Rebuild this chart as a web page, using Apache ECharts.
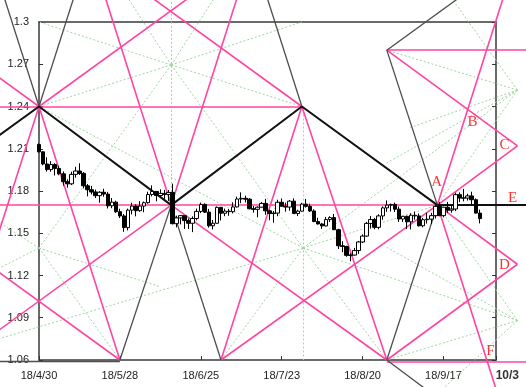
<!DOCTYPE html>
<html><head><meta charset="utf-8">
<script src="https://cdn.jsdelivr.net/npm/echarts@6/dist/echarts.min.js"></script>
<style>html,body{margin:0;padding:0;background:#fff}#c{width:526px;height:387px}</style>
</head><body><div id="c"></div>
<script>
const dates = ['18/4/30','18/5/1','18/5/2','18/5/3','18/5/4','18/5/7','18/5/8','18/5/9','18/5/10','18/5/11',
'18/5/14','18/5/15','18/5/16','18/5/17','18/5/18','18/5/21','18/5/22','18/5/23','18/5/24','18/5/25',
'18/5/28','18/5/29','18/5/30','18/5/31','18/6/1','18/6/4','18/6/5','18/6/6','18/6/7','18/6/8',
'18/6/11','18/6/12','18/6/13','18/6/14','18/6/15','18/6/18','18/6/19','18/6/20','18/6/21','18/6/22',
'18/6/25','18/6/26','18/6/27','18/6/28','18/6/29','18/7/2','18/7/3','18/7/4','18/7/5','18/7/6',
'18/7/9','18/7/10','18/7/11','18/7/12','18/7/13','18/7/16','18/7/17','18/7/18','18/7/19','18/7/20',
'18/7/23','18/7/24','18/7/25','18/7/26','18/7/27','18/7/30','18/7/31','18/8/1','18/8/2','18/8/3',
'18/8/6','18/8/7','18/8/8','18/8/9','18/8/10','18/8/13','18/8/14','18/8/15','18/8/16','18/8/17',
'18/8/20','18/8/21','18/8/22','18/8/23','18/8/24','18/8/27','18/8/28','18/8/29','18/8/30','18/8/31',
'18/9/3','18/9/4','18/9/5','18/9/6','18/9/7','18/9/10','18/9/11','18/9/12','18/9/13','18/9/14',
'18/9/17','18/9/18','18/9/19','18/9/20','18/9/21','18/9/24','18/9/25','18/9/26','18/9/27','18/9/28'];
const openP = [1.2130,1.2078,1.1992,1.1952,1.1988, 1.1960,1.1922,1.1866,1.1851,1.1918,
1.1942,1.1925,1.1837,1.1809,1.1793, 1.1767,1.1791,1.1778,1.1695,1.1721,
1.1653,1.1623,1.1540,1.1664,1.1693, 1.1660,1.1693,1.1717,1.1775,1.1797,
1.1768,1.1783,1.1776,1.1790,1.1568, 1.1609,1.1625,1.1590,1.1571,1.1605,
1.1655,1.1705,1.1650,1.1553,1.1571, 1.1684,1.1642,1.1657,1.1653,1.1687,
1.1743,1.1748,1.1742,1.1674,1.1670, 1.1685,1.1712,1.1659,1.1640,1.1643,
1.1720,1.1692,1.1686,1.1728,1.1640, 1.1657,1.1707,1.1691,1.1658,1.1583,
1.1566,1.1552,1.1597,1.1611,1.1525, 1.1411,1.1406,1.1343,1.1345,1.1377,
1.1438,1.1480,1.1570,1.1597,1.1542, 1.1623,1.1680,1.1700,1.1705,1.1671,
1.1601,1.1620,1.1581,1.1628,1.1623, 1.1553,1.1596,1.1600,1.1625,1.1691,
1.1625,1.1685,1.1664,1.1672,1.1774, 1.1750,1.1750,1.1765,1.1738,1.1643];
const closeP = [1.2078,1.1992,1.1952,1.1988,1.1960, 1.1922,1.1866,1.1851,1.1918,1.1942,
1.1925,1.1837,1.1809,1.1793,1.1767, 1.1791,1.1778,1.1695,1.1721,1.1653,
1.1623,1.1540,1.1664,1.1693,1.1660, 1.1693,1.1717,1.1775,1.1797,1.1768,
1.1783,1.1776,1.1790,1.1568,1.1609, 1.1625,1.1590,1.1571,1.1605,1.1655,
1.1705,1.1650,1.1553,1.1571,1.1684, 1.1642,1.1657,1.1653,1.1687,1.1743,
1.1748,1.1742,1.1674,1.1670,1.1685, 1.1712,1.1659,1.1640,1.1643,1.1720,
1.1692,1.1686,1.1728,1.1640,1.1657, 1.1707,1.1691,1.1658,1.1583,1.1566,
1.1552,1.1597,1.1611,1.1525,1.1411, 1.1406,1.1343,1.1345,1.1377,1.1438,
1.1480,1.1570,1.1597,1.1542,1.1623, 1.1680,1.1700,1.1705,1.1671,1.1601,
1.1620,1.1581,1.1628,1.1623,1.1553, 1.1596,1.1600,1.1625,1.1691,1.1625,
1.1685,1.1664,1.1672,1.1774,1.1750, 1.1750,1.1765,1.1738,1.1643,1.1604];
const lowP = [1.2074,1.1982,1.1938,1.1937,1.1910, 1.1912,1.1838,1.1823,1.1842,1.1895,
1.1914,1.1819,1.1762,1.1776,1.1750, 1.1717,1.1759,1.1676,1.1678,1.1644,
1.1608,1.1510,1.1520,1.1634,1.1620, 1.1652,1.1649,1.1710,1.1762,1.1727,
1.1760,1.1744,1.1730,1.1563,1.1542, 1.1563,1.1531,1.1530,1.1508,1.1592,
1.1643,1.1644,1.1540,1.1527,1.1568, 1.1591,1.1621,1.1624,1.1641,1.1683,
1.1714,1.1719,1.1669,1.1646,1.1613, 1.1683,1.1631,1.1592,1.1575,1.1621,
1.1690,1.1653,1.1660,1.1636,1.1622, 1.1654,1.1682,1.1651,1.1578,1.1562,
1.1531,1.1548,1.1580,1.1524,1.1388, 1.1365,1.1333,1.1301,1.1341,1.1353,
1.1430,1.1475,1.1533,1.1528,1.1528, 1.1596,1.1652,1.1654,1.1651,1.1580,
1.1580,1.1530,1.1527,1.1596,1.1548, 1.1542,1.1569,1.1565,1.1605,1.1621,
1.1613,1.1646,1.1646,1.1657,1.1721, 1.1726,1.1732,1.1702,1.1640,1.1570];
const highP = [1.2139,1.2083,1.2040,1.2012,1.1997, 1.1979,1.1939,1.1883,1.1937,1.1972,
1.1997,1.1935,1.1850,1.1836,1.1810, 1.1799,1.1816,1.1794,1.1750,1.1731,
1.1674,1.1636,1.1675,1.1717,1.1705, 1.1728,1.1725,1.1795,1.1840,1.1800,
1.1812,1.1808,1.1807,1.1852,1.1625, 1.1627,1.1628,1.1605,1.1620,1.1675,
1.1718,1.1712,1.1673,1.1594,1.1690, 1.1685,1.1675,1.1672,1.1720,1.1760,
1.1790,1.1767,1.1749,1.1693,1.1691, 1.1722,1.1744,1.1667,1.1658,1.1738,
1.1747,1.1718,1.1736,1.1748,1.1667, 1.1716,1.1744,1.1710,1.1670,1.1610,
1.1572,1.1616,1.1621,1.1637,1.1532, 1.1443,1.1411,1.1358,1.1396,1.1445,
1.1492,1.1581,1.1623,1.1609,1.1635, 1.1691,1.1733,1.1710,1.1718,1.1690,
1.1624,1.1625,1.1642,1.1654,1.1640, 1.1609,1.1645,1.1645,1.1700,1.1722,
1.1688,1.1722,1.1700,1.1788,1.1790, 1.1815,1.1780,1.1795,1.1747,1.1668];

// y-axis tick values
const yTicks = {min: 1.06, max: 1.30, step: 0.03};
const xTicks = {min: 0, max: 113, step: 20};

// Overlay line segments in data units: [day index, price]
const blackSegs = [
  [[-10,1.2192],[0,1.24]],
  [[0,1.24],[32.7,1.17]],
  [[32.7,1.17],[65,1.24]],
  [[65,1.24],[98.5,1.17]],
  [[98.5,1.17],[122,1.17]]
];
const pinkSegs = [
  [[-10,1.24],[65,1.24]],
  [[-10,1.17],[98.5,1.17]],
  [[86,1.28],[122,1.28]],
  [[86,1.0588],[122,1.0588]],
  [[0,1.24],[20,1.06]],
  [[0,1.24],[-10,1.15]],
  [[16.1,1.32],[32.7,1.17]],
  [[32.7,1.17],[49.3,1.32]],
  [[45,1.06],[65,1.24]],
  [[65,1.24],[86,1.06]],
  [[98.5,1.17],[115.1,1.32]],
  [[98.5,1.17],[113.5,1.035]],
  [[-10,1.2608],[0,1.24]],
  [[0,1.24],[38.4,1.32]],
  [[32.7,1.17],[86,1.06]],
  [[-10,1.081],[32.7,1.17]],
  [[86,1.28],[118.3,1.212]],
  [[98.5,1.17],[118.3,1.212]],
  [[98.5,1.17],[118.3,1.128]],
  [[86,1.06],[118.3,1.128]],
  [[45,1.06],[98.5,1.17]],
  [[20,1.06],[-10,1.1225]],
  [[65,1.24],[26.6,1.32]]
];
const darkSegs = [
  [[0,1.24],[-8.9,1.32]],
  [[0,1.24],[8.9,1.32]],
  [[20,1.06],[32.7,1.17]],
  [[32.7,1.17],[45,1.06]],
  [[56.1,1.32],[65,1.24]],
  [[86,1.06],[98.5,1.17]],
  [[86,1.28],[98.5,1.17]],
  [[86,1.28],[105.2,1.32]],
  [[86,1.06],[95.3,1.04]],
  [[-10,1.0588],[20,1.0588]]
];
const starS1 = [32.7,1.2695], starS2 = [65.3,1.1395], starS3 = [0,1.1395], starS4 = [118.3,1.2517], starS5 = [118.3,1.088];
const greenSegs = [
  [[32.7,1.32],[32.7,1.17]],
  [[65.3,1.24],[65.3,1.06]],
  [starS1,[0,1.30]],[starS1,[0,1.24]],[starS1,[65,1.30]],[starS1,[65,1.24]],
  [starS1,[21.3,1.32]],[starS1,[44,1.32]],[starS1,starS3],[starS1,starS2],
  [starS2,[0,1.24]],[starS2,[45,1.06]],[starS2,[86,1.06]],[starS2,[98.5,1.17]],
  [starS2,starS4],[starS2,starS5],[starS2,[-10,1.075]],
  [starS3,[20,1.06]],[starS3,[-10,1.125]],[starS3,[-10,1.158]],[starS3,[30,1.112]],
  [starS4,[102.5,1.315]],[starS4,[86,1.28]],[starS4,[91.8,1.225]],[starS4,[98.5,1.17]],[starS4,[86,1.2]],
  [starS5,[86,1.06]],[starS5,[98.5,1.17]],[starS5,[100,1.04]],[starS5,[86,1.14]]
];
const letters = [
  {name:'A', value:[98.3,1.1864]},
  {name:'B', value:[107.2,1.229]},
  {name:'C', value:[115.1,1.2127]},
  {name:'D', value:[115.1,1.1275]},
  {name:'E', value:[117.1,1.175]},
  {name:'F', value:[111.6,1.0664]}
];
const endLabel = [{name:'10/3', value:[115.8,1.0486]}];

const candles = dates.map((d,i)=>[i, openP[i], closeP[i], lowP[i], highP[i]]);

function linesSeries(segs, color, width, type, z){
  return {type:'lines', coordinateSystem:'cartesian2d', polyline:false, silent:true, clip:false, z:z,
    data: segs.map(s=>({coords:s})),
    lineStyle:{color:color, width:width, type:type, opacity:1, curveness:0}, effect:{show:false}};
}

const chart = echarts.init(document.getElementById('c'), null, {renderer:'canvas'});
const axisCol = '#6a6a6a';
chart.setOption({
  animation:false,
  backgroundColor:'#fff',
  grid:{left:39, right:30, top:22, bottom:27, containLabel:false},
  xAxis:[
    {type:'value', min:xTicks.min, max:xTicks.max, interval:xTicks.step, position:'bottom',
     axisLine:{show:true, onZero:false, lineStyle:{color:axisCol, width:2}},
     axisTick:{show:true, inside:true, length:4, lineStyle:{color:'#333'}},
     axisLabel:{margin:10, fontSize:11, color:'#222', fontFamily:'Liberation Sans',
       formatter:v=> (dates[v]!==undefined && v%20===0) ? dates[v] : ''},
     splitLine:{show:false}},
    {type:'value', min:xTicks.min, max:xTicks.max, position:'top',
     axisLine:{show:true, onZero:false, lineStyle:{color:axisCol, width:2}},
     axisTick:{show:false}, axisLabel:{show:false}, splitLine:{show:false}}
  ],
  yAxis:[
    {type:'value', min:yTicks.min, max:yTicks.max, interval:yTicks.step, position:'left',
     axisLine:{show:true, onZero:false, lineStyle:{color:axisCol, width:2}},
     axisTick:{show:true, inside:true, length:4, lineStyle:{color:'#333'}},
     axisLabel:{margin:10, fontSize:11, color:'#222', fontFamily:'Liberation Sans'},
     splitLine:{show:false}},
    {type:'value', min:yTicks.min, max:yTicks.max, interval:yTicks.step, position:'right',
     axisLine:{show:true, onZero:false, lineStyle:{color:axisCol, width:2}},
     axisTick:{show:true, inside:true, length:4, lineStyle:{color:'#333'}},
     axisLabel:{show:false}, splitLine:{show:false}}
  ],
  series:[
    linesSeries(greenSegs, '#9fd6a0', 1, [2,2], 1),
    linesSeries(pinkSegs, '#ff45a2', 1.6, 'solid', 2),
    linesSeries(darkSegs, '#4d4d4d', 1.3, 'solid', 3),
    linesSeries(blackSegs, '#111111', 2, 'solid', 4),
    {type:'candlestick', data:candles, encode:{x:0, y:[1,2,3,4]}, barWidth:4, silent:true, z:5,
     itemStyle:{color:'#ffffff', color0:'#000000', borderColor:'#000000', borderColor0:'#000000', borderWidth:1}},
    {type:'scatter', data:letters, symbolSize:1, clip:false, silent:true, z:6,
     itemStyle:{color:'rgba(0,0,0,0)'},
     label:{show:true, position:'inside', formatter:'{b}', color:'#ff0000', fontSize:15,
       fontFamily:'Liberation Serif'}},
    {type:'scatter', data:endLabel, symbolSize:1, clip:false, silent:true, z:6,
     itemStyle:{color:'rgba(0,0,0,0)'},
     label:{show:true, position:'inside', formatter:'{b}', color:'#000', fontSize:12, fontWeight:'bold',
       fontFamily:'Liberation Sans'}}
  ]
});
</script></body></html>
